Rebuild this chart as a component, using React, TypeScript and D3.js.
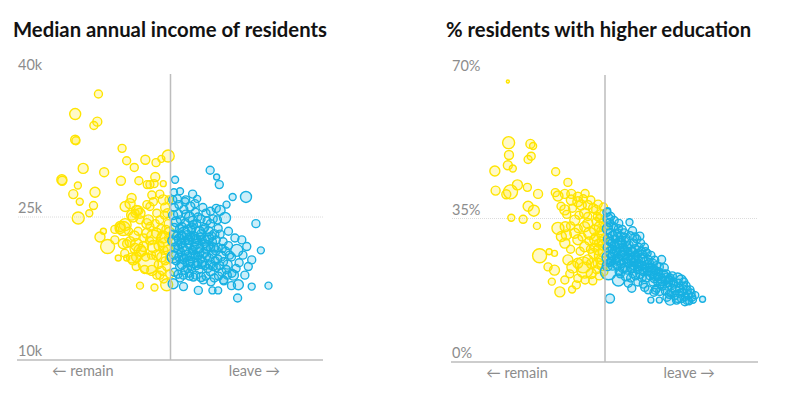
import { useEffect, useRef } from "react";
import * as d3 from "d3";

// each point: [leave vote %, value, circle radius]
type Pt = [number, number, number];

const incomeTicks = [10, 25, 40];
const educationTicks = [0, 35, 70];

const incomeRemain: Pt[] = [
    [31.1, 37.9, 4], [25.0, 35.8, 5.5], [30.8, 35.0, 4.5], [29.9, 34.6, 4], [25.0, 33.1, 4.5], [25.2, 33.0, 4],
    [37.3, 32.2, 4], [38.5, 30.9, 4], [40.5, 30.2, 4], [43.4, 31.0, 4.5], [46.2, 30.7, 4], [47.6, 31.1, 3.5],
    [49.4, 31.4, 6], [27.1, 30.1, 5], [32.6, 29.7, 4.5], [21.5, 28.9, 5], [21.6, 28.8, 4.5], [37.0, 28.8, 4.5],
    [41.7, 28.8, 4], [46.0, 29.2, 4.5], [25.7, 28.3, 3.5], [24.5, 27.4, 4.5], [30.2, 27.6, 5], [26.2, 26.6, 3.5],
    [29.8, 26.2, 4], [28.7, 25.4, 3.5], [25.8, 24.9, 6], [43.9, 28.4, 4], [44.6, 28.4, 4], [45.7, 28.5, 4],
    [48.1, 28.5, 3], [45.1, 27.3, 4], [47.2, 27.4, 4], [39.8, 27.0, 4.5], [39.4, 26.4, 5], [38.1, 26.1, 5],
    [41.6, 25.7, 4.5], [40.7, 25.4, 4], [44.6, 26.1, 4], [46.4, 25.4, 4], [48.6, 26.0, 4.5], [48.1, 26.8, 5],
    [45.5, 26.6, 4], [31.5, 22.9, 5], [33.5, 21.9, 7], [32.4, 23.5, 3], [35.4, 22.6, 4], [36.3, 20.7, 3],
    [37.6, 23.8, 7], [36.8, 23.8, 5], [38.5, 22.2, 4], [41.1, 25.7, 5], [40.2, 25.0, 5], [42.0, 24.7, 4],
    [43.8, 24.3, 5], [44.2, 20.1, 10], [42.0, 21.5, 6], [41.1, 20.8, 5], [39.8, 20.7, 5], [42.9, 21.9, 5],
    [45.5, 21.9, 6], [46.4, 21.0, 5], [45.5, 22.9, 7], [48.1, 22.9, 6], [47.7, 20.8, 5], [49.0, 19.8, 4],
    [46.4, 18.9, 4], [49.0, 17.9, 6], [42.0, 17.8, 3.5], [38.5, 20.7, 3], [40.7, 21.7, 5], [43.8, 26.3, 4],
    [43.8, 23.3, 5], [48.6, 22.1, 7], [49.4, 21.5, 5], [45.1, 19.4, 5], [47.7, 19.4, 4], [35.4, 23.7, 4],
    [36.8, 24.0, 5], [38.1, 24.2, 6], [39.8, 25.2, 5], [42.0, 25.4, 5], [44.2, 24.7, 5], [44.6, 24.0, 4],
    [37.6, 22.2, 5], [39.4, 22.4, 5], [41.1, 22.1, 6], [42.4, 21.4, 5], [40.2, 20.5, 5], [47.2, 18.9, 4],
    [48.1, 22.6, 7], [46.4, 23.3, 5], [47.2, 24.7, 4], [49.4, 24.3, 4],
    [49.6, 26.8, 4], [49.2, 25.4, 4.5], [48.4, 25.2, 4], [49.7, 23.4, 5], [48.8, 23.7, 4], [49.5, 22.8, 4],
    [49.7, 20.6, 4], [48.6, 20.4, 4], [48.3, 21.5, 4], [47.0, 22.0, 5], [46.8, 20.0, 4], [45.0, 21.0, 4],
    [43.5, 20.8, 4], [43.0, 22.8, 4], [41.5, 23.5, 4], [40.5, 23.0, 5], [39.0, 23.5, 4], [38.0, 21.2, 4],
    [41.0, 19.8, 4], [43.2, 19.5, 4], [44.5, 22.5, 4], [46.0, 24.3, 4], [47.5, 23.8, 4], [49.8, 19.0, 4],
    [48.2, 18.5, 4], [45.8, 17.6, 3.5],
];

const incomeLeave: Pt[] = [
    [60.4, 29.9, 4], [62.1, 29.2, 3], [62.8, 28.4, 4], [51.2, 28.9, 3.5], [66.3, 27.1, 3.5], [69.8, 27.1, 5.5],
    [55.8, 27.4, 4], [53.8, 26.6, 4], [56.4, 26.4, 4], [63.0, 25.7, 5], [64.3, 24.9, 5.5], [64.7, 26.3, 3.5],
    [72.4, 24.3, 4], [62.5, 23.8, 4], [65.2, 23.5, 4], [66.9, 22.8, 4], [68.7, 22.6, 4], [67.4, 21.5, 6],
    [70.0, 21.9, 4], [73.7, 21.5, 3.5], [71.3, 20.5, 4], [70.4, 19.8, 4], [69.5, 18.9, 4], [67.8, 17.9, 5],
    [71.3, 17.7, 3.5], [75.7, 17.8, 3.5], [67.6, 16.5, 4], [66.1, 19.1, 4], [63.9, 18.4, 4], [62.5, 17.3, 3.5],
    [61.0, 17.3, 3.5], [57.3, 17.3, 4], [53.4, 17.7, 4], [50.7, 18.0, 5], [58.6, 18.4, 4], [56.0, 18.7, 4],
    [52.5, 18.6, 4], [52.5, 27.7, 3.5], [54.0, 26.8, 4], [58.5, 26.0, 4], [60.5, 25.6, 4], [62.0, 25.9, 4],
    [57.0, 26.9, 3.5], [51.0, 26.0, 4], [52.0, 25.3, 4.5], [53.5, 25.8, 4], [55.0, 25.0, 5], [56.5, 25.5, 4],
    [58.0, 24.8, 4], [51.5, 24.5, 5], [53.0, 24.0, 4], [54.5, 23.7, 4.5], [56.0, 24.2, 4], [57.5, 23.5, 5],
    [59.0, 23.9, 4], [60.5, 24.3, 4], [61.5, 23.2, 4.5], [50.8, 23.2, 4], [52.3, 22.7, 5], [53.8, 22.5, 4],
    [55.3, 22.9, 4], [56.8, 22.2, 4.5], [58.3, 22.6, 4], [59.8, 22.0, 5], [61.0, 22.4, 4], [62.5, 21.8, 4],
    [51.2, 21.8, 4.5], [52.7, 21.3, 4], [54.2, 21.0, 5], [55.7, 21.5, 4], [57.2, 20.9, 4], [58.7, 21.2, 4.5],
    [60.2, 20.7, 4], [61.7, 20.4, 4], [63.2, 20.9, 5], [64.5, 21.4, 4], [51.5, 20.4, 4], [53.0, 20.0, 4.5],
    [54.5, 19.6, 4], [56.0, 20.2, 5], [57.5, 19.5, 4], [59.0, 19.9, 4], [60.5, 19.3, 4.5], [62.0, 19.7, 4],
    [63.5, 19.2, 4], [65.0, 20.0, 4.5], [66.0, 20.8, 4], [52.0, 19.0, 4], [55.0, 18.8, 4], [58.0, 18.7, 4.5],
    [61.5, 18.6, 4], [64.0, 18.3, 4], [66.5, 18.9, 5], [68.0, 20.2, 4], [69.0, 21.0, 4], [50.6, 22.5, 5],
    [50.7, 20.8, 6], [53.5, 23.3, 6], [57.0, 21.8, 6], [60.0, 22.8, 5],
    [50.6, 26.8, 4], [52.2, 26.3, 4], [55.2, 26.1, 4.5], [59.3, 25.4, 4], [61.2, 24.8, 4],
    [50.7, 25.2, 4.5], [52.6, 24.7, 4], [54.0, 25.3, 4], [55.8, 24.6, 4.5], [57.2, 25.0, 4], [59.6, 24.6, 4],
    [62.3, 24.7, 4], [51.0, 23.9, 4], [52.4, 23.8, 4], [53.9, 24.4, 4], [55.5, 23.6, 4], [56.9, 24.3, 4],
    [58.6, 23.7, 4], [60.0, 23.5, 4.5], [63.0, 23.2, 4], [51.6, 23.0, 4], [52.9, 23.1, 4], [54.7, 22.6, 4.5],
    [56.2, 23.0, 4], [57.8, 22.9, 4], [59.2, 22.6, 4], [60.8, 23.0, 4], [62.0, 22.6, 4], [63.8, 22.4, 4],
    [51.9, 22.0, 4], [53.2, 21.8, 4.5], [54.8, 22.1, 4], [56.2, 21.9, 4], [57.7, 21.7, 4], [59.0, 22.2, 4],
    [60.5, 21.8, 4], [61.9, 21.5, 4.5], [63.6, 21.7, 4], [65.2, 22.0, 4], [50.9, 21.0, 4], [52.2, 20.8, 4],
    [53.6, 20.7, 4], [55.0, 20.9, 4.5], [56.5, 21.0, 4], [57.9, 20.6, 4], [59.5, 20.9, 4], [61.0, 21.1, 4],
    [62.4, 20.6, 4], [63.9, 20.3, 4], [65.5, 21.0, 4], [52.4, 19.8, 4], [53.8, 19.4, 4], [55.4, 19.8, 4],
    [56.8, 19.9, 4], [58.3, 20.0, 4], [59.8, 19.6, 4], [61.2, 19.8, 4], [62.9, 19.9, 4], [64.6, 19.5, 4],
    [67.2, 19.6, 4], [51.0, 19.2, 4], [53.4, 18.9, 4], [54.9, 19.1, 4], [56.6, 18.9, 4], [59.3, 18.8, 4],
    [60.6, 18.2, 4], [62.6, 18.8, 4], [64.9, 18.9, 4], [66.0, 17.8, 4], [50.9, 27.6, 3.5], [51.8, 26.9, 4],
    [52.8, 22.2, 4.5], [53.9, 21.5, 4.5], [54.9, 22.6, 4.5], [55.9, 21.2, 4.5], [56.7, 22.7, 4.5], [57.6, 21.3, 4.5],
    [58.4, 20.3, 4.5], [55.2, 20.4, 4.5], [53.4, 20.6, 4.5], [54.3, 23.1, 4.5], [52.1, 21.6, 4.5], [57.1, 20.2, 4.5],
    [59.4, 21.6, 4.5], [56.3, 22.5, 5], [54.6, 20.3, 5], [58.1, 23.2, 4.5], [55.6, 23.9, 4.5], [53.1, 22.9, 4.5],
    [60.4, 20.0, 4.5], [61.3, 21.8, 4.5],
];

const educationRemain: Pt[] = [
    [24.6, 68.4, 1.5], [24.8, 53.5, 6], [30.5, 53.2, 4.5], [31.2, 52.7, 3.5], [24.9, 50.5, 4.5], [30.7, 50.2, 4],
    [29.9, 49.4, 4], [24.6, 48.0, 4.5], [25.9, 47.2, 3.5], [21.2, 46.6, 5], [37.1, 46.4, 4], [40.3, 43.8, 4],
    [27.1, 43.2, 5], [29.7, 42.6, 4], [25.3, 41.5, 7], [24.2, 40.9, 4.5], [21.4, 41.8, 4.5], [32.5, 41.0, 4.5],
    [37.0, 41.3, 4], [37.7, 40.5, 5], [39.5, 41.0, 4.5], [41.2, 41.0, 4.5], [42.9, 40.3, 4.5], [44.8, 41.1, 4],
    [29.9, 38.0, 5], [31.4, 36.9, 5.5], [25.5, 35.2, 3.5], [28.6, 34.8, 4], [32.2, 33.2, 3.5], [39.5, 37.1, 5],
    [41.2, 39.5, 5], [42.9, 39.1, 5], [43.8, 38.3, 5], [45.5, 38.3, 4.5], [46.9, 37.5, 4.5], [47.7, 37.1, 4.5],
    [37.7, 32.6, 6], [39.6, 33.0, 5], [42.1, 34.6, 5], [44.7, 36.3, 5], [45.5, 33.8, 5], [47.7, 34.2, 4],
    [48.6, 35.0, 4], [39.5, 29.0, 5], [42.9, 29.8, 5], [44.7, 28.1, 5], [47.3, 29.8, 5], [48.2, 27.3, 5],
    [32.9, 25.9, 7], [35.4, 26.9, 3], [36.8, 26.5, 3], [35.1, 23.2, 4], [36.8, 22.4, 5], [36.1, 19.6, 3.5],
    [38.2, 17.1, 5], [41.4, 17.7, 3.5], [40.3, 24.9, 5], [41.6, 23.2, 6], [42.9, 20.4, 4], [44.7, 22.4, 8],
    [46.4, 21.6, 5], [42.9, 24.1, 5], [45.5, 24.9, 5], [48.2, 24.1, 5], [47.3, 32.2, 5], [46.0, 31.4, 6],
    [44.7, 33.0, 5], [42.1, 31.4, 5], [39.9, 31.0, 5], [38.6, 30.6, 5], [49.0, 36.0, 5], [48.5, 33.0, 5],
    [49.2, 31.0, 5], [47.5, 30.5, 4], [49.5, 28.5, 5], [48.8, 26.0, 6], [47.0, 26.5, 5], [49.3, 23.5, 5],
    [47.8, 22.5, 4], [46.5, 24.0, 5], [44.3, 23.7, 8], [48.0, 35.5, 4], [49.5, 34.0, 4], [48.9, 32.0, 4],
    [49.7, 30.0, 4], [48.3, 29.0, 4],
    [49.6, 37.8, 4], [48.2, 38.5, 4], [46.3, 39.5, 4], [44.3, 39.8, 4], [49.8, 33.0, 4], [49.0, 29.5, 4],
    [49.6, 26.8, 5], [49.0, 24.8, 4], [49.7, 22.0, 4], [48.5, 21.0, 4], [47.3, 28.0, 4], [46.2, 27.5, 4],
    [45.8, 29.5, 4], [44.0, 30.5, 4], [43.5, 27.0, 4], [41.0, 27.5, 4], [40.0, 36.0, 4], [41.5, 37.5, 4],
    [38.5, 38.0, 4], [40.8, 21.5, 4], [39.5, 20.0, 4], [42.5, 18.8, 4], [44.8, 20.0, 4], [46.8, 19.8, 4],
    [45.5, 35.5, 4], [43.2, 35.8, 4], [43.0, 32.5, 4], [41.0, 33.2, 4],
];

const educationLeave: Pt[] = [
    [50.7, 36.9, 3], [50.5, 36.5, 4], [50.8, 35.0, 5], [51.2, 34.0, 4], [50.6, 32.5, 5], [51.5, 31.5, 4.5],
    [50.9, 30.0, 5], [51.8, 29.0, 4], [50.7, 28.0, 4.5], [51.3, 26.8, 5], [50.8, 25.5, 6], [51.6, 24.5, 4],
    [50.6, 23.5, 5], [50.9, 22.0, 8], [52.3, 33.0, 4], [52.8, 31.0, 5], [52.5, 28.5, 4.5], [53.0, 27.0, 4],
    [52.2, 26.0, 5], [53.5, 32.5, 4], [54.2, 30.5, 4.5], [55.0, 31.5, 4], [53.8, 29.0, 5], [54.8, 28.0, 4],
    [55.5, 29.5, 4.5], [56.0, 27.0, 4], [53.5, 25.5, 4], [54.5, 26.0, 5], [55.5, 25.0, 4], [56.3, 26.0, 4.5],
    [53.2, 23.5, 4], [54.3, 24.0, 4], [55.2, 23.0, 4.5], [56.2, 24.0, 4], [54.0, 21.5, 4], [55.5, 21.0, 5],
    [56.1, 19.2, 4], [53.5, 20.0, 6], [57.0, 18.0, 4], [56.4, 34.1, 3.5], [57.2, 32.0, 4], [57.5, 29.0, 4],
    [58.3, 30.0, 4], [59.1, 30.7, 4], [57.8, 27.5, 4.5], [58.5, 26.5, 4], [59.5, 27.0, 4], [57.4, 25.5, 5],
    [58.7, 25.0, 4], [59.8, 25.5, 4.5], [57.6, 23.5, 4], [58.5, 22.5, 4], [59.6, 23.5, 4], [58.0, 21.0, 4],
    [59.2, 21.5, 4.5], [60.0, 22.0, 4], [58.6, 19.5, 4], [60.0, 19.0, 4], [60.3, 28.0, 4], [61.0, 26.5, 4],
    [61.3, 25.0, 4], [62.0, 26.0, 4], [62.5, 24.0, 4.5], [61.5, 23.0, 4], [62.8, 22.5, 4], [63.5, 23.5, 4],
    [61.8, 21.0, 4], [63.0, 21.0, 4.5], [64.0, 22.0, 4], [64.8, 25.0, 4], [62.5, 19.5, 4], [63.8, 19.5, 4],
    [64.5, 20.5, 5], [61.3, 17.6, 4], [62.0, 15.1, 3], [63.2, 17.5, 4], [64.2, 15.1, 3], [65.0, 18.5, 4],
    [65.5, 23.0, 4], [66.0, 21.5, 4], [66.5, 19.5, 4.5], [67.0, 20.5, 4], [67.5, 18.0, 4], [66.8, 16.5, 4],
    [67.0, 15.1, 5], [68.0, 19.0, 4], [68.5, 17.5, 4.5], [68.7, 15.1, 4], [69.0, 20.5, 5], [69.9, 20.0, 5],
    [69.5, 18.0, 4], [69.0, 16.0, 6], [70.2, 17.0, 4], [70.9, 14.7, 4], [70.5, 18.5, 4], [71.0, 16.0, 4],
    [71.5, 17.5, 4], [72.2, 17.6, 4], [72.7, 15.8, 4], [72.0, 14.8, 3.5], [75.5, 15.3, 3], [51.3, 15.5, 4.5],
    [51.0, 33.2, 4], [51.5, 35.5, 4], [51.9, 27.5, 4], [51.2, 29.4, 4], [51.7, 25.8, 4], [51.1, 24.2, 4],
    [52.0, 23.5, 4.5], [52.4, 34.5, 4], [52.7, 30.0, 4], [52.9, 25.0, 4], [53.3, 31.5, 4], [53.6, 33.8, 4],
    [53.9, 27.8, 4], [54.1, 29.6, 4], [54.5, 32.3, 4], [54.7, 26.8, 4], [54.6, 22.8, 4], [53.7, 22.0, 4],
    [55.2, 27.2, 4], [55.0, 24.3, 4], [55.4, 30.3, 4], [55.8, 22.4, 4], [53.0, 24.6, 4], [56.3, 28.5, 4],
    [56.6, 30.8, 4], [56.8, 25.0, 4], [56.9, 22.8, 4], [57.2, 27.0, 4], [57.5, 24.3, 4], [57.8, 30.5, 4],
    [58.0, 26.0, 4], [58.2, 23.8, 4], [58.8, 28.0, 4], [58.9, 24.0, 4], [57.3, 21.5, 4], [56.7, 20.5, 4],
    [59.3, 29.0, 4], [59.8, 26.3, 4], [60.2, 24.5, 4], [60.5, 23.0, 4], [60.6, 26.9, 4], [60.8, 20.5, 4],
    [61.1, 22.2, 4], [61.6, 24.2, 4], [59.7, 20.5, 4], [60.4, 18.2, 4], [62.2, 23.0, 4], [62.5, 21.5, 4],
    [63.0, 24.8, 4], [63.2, 22.3, 4], [63.7, 20.8, 4], [64.2, 23.2, 4], [64.5, 19.0, 4], [63.5, 18.0, 4],
    [62.8, 17.0, 4], [64.3, 17.2, 4], [65.3, 21.5, 4], [65.7, 19.8, 4], [65.8, 17.3, 4], [66.3, 18.5, 4],
    [66.8, 20.0, 4], [67.3, 16.8, 4], [67.8, 19.5, 4], [68.2, 16.2, 4], [67.6, 21.0, 4], [66.2, 15.8, 4],
    [69.2, 19.2, 4], [69.6, 16.8, 4], [70.0, 15.5, 4], [70.6, 19.5, 4], [71.2, 18.6, 4], [71.8, 16.4, 4],
    [72.5, 16.8, 4], [73.0, 15.2, 3.5], [73.6, 16.3, 3.5], [71.5, 15.0, 4],
    [52.0, 30.8, 4.5], [53.2, 28.7, 4.5], [54.0, 27.1, 4.5], [55.0, 26.2, 4.5], [56.0, 25.3, 4.5], [56.9, 26.8, 4.5],
    [57.9, 24.8, 4.5], [58.8, 23.3, 4.5], [59.9, 22.7, 4.5], [60.9, 23.7, 4.5], [61.8, 22.0, 4.5], [62.9, 20.5, 4.5],
    [63.9, 21.4, 4.5], [65.0, 19.7, 4.5], [66.2, 20.6, 4.5], [54.4, 29.0, 4.5], [55.8, 28.0, 4.5], [57.1, 23.0, 4.5],
    [52.4, 26.9, 4.5], [53.8, 24.8, 4.5],
];

const remainColor = "#ffe500";
const leaveColor = "#17b0e2";

export default function App() {
    const chartRef = useRef<SVGSVGElement>(null);

    useEffect(() => {
        if (!chartRef.current) return;
        const svg = d3.select(chartRef.current);
        svg.selectAll("*").remove();

        const panels = [
            {
                title: "Median annual income of residents", titleX: 13,
                left: 18, right: 323, top: 74, bottom: 360,
                domain: [10, 40], ticks: incomeTicks, fmt: (d: number) => `${d}k`,
                remain: incomeRemain, leave: incomeLeave,
            },
            {
                title: "% residents with higher education", titleX: 446,
                left: 452, right: 758, top: 75, bottom: 362,
                domain: [0, 70], ticks: educationTicks, fmt: (d: number) => `${d}%`,
                remain: educationRemain, leave: educationLeave,
            },
        ];

        panels.forEach((p) => {
            const x = d3.scaleLinear().domain([10, 90]).range([p.left, p.right]);
            const y = d3.scaleLinear().domain(p.domain).range([p.bottom, p.top]);
            const g = svg.append("g");

            g.append("text")
                .attr("x", p.titleX)
                .attr("y", 36.5)
                .attr("font-family", "Lato, sans-serif")
                .attr("font-weight", 700)
                .attr("font-size", 20.3)
                .attr("fill", "#121212")
                .text(p.title);

            // dotted middle gridline
            g.selectAll(".grid")
                .data(p.ticks.slice(1, -1))
                .enter()
                .append("line")
                .attr("x1", p.left)
                .attr("x2", p.right)
                .attr("y1", (d) => y(d))
                .attr("y2", (d) => y(d))
                .attr("stroke", "#dcdcdc")
                .attr("stroke-dasharray", "1,1");

            g.selectAll(".tick")
                .data(p.ticks)
                .enter()
                .append("text")
                .attr("x", p.left)
                .attr("y", (d) => y(d) - 4)
                .attr("font-family", "Lato, sans-serif")
                .attr("font-size", 14.5)
                .attr("fill", "#8c8c8c")
                .text((d) => p.fmt(d));

            // remain first, leave on top
            [
                { pts: p.remain, color: remainColor },
                { pts: p.leave, color: leaveColor },
            ].forEach((s) => {
                g.append("g")
                    .selectAll("circle")
                    .data(s.pts)
                    .enter()
                    .append("circle")
                    .attr("cx", (d) => x(d[0]))
                    .attr("cy", (d) => y(d[1]))
                    .attr("r", (d) => d[2])
                    .attr("fill", s.color)
                    .attr("fill-opacity", 0.22)
                    .attr("stroke", s.color)
                    .attr("stroke-width", 1.4);
            });

            g.append("line")
                .attr("x1", x(50))
                .attr("x2", x(50))
                .attr("y1", p.top)
                .attr("y2", p.bottom)
                .attr("stroke", "#bdbdbd")
                .attr("stroke-width", 1.5);

            g.append("line")
                .attr("x1", p.left - 1)
                .attr("x2", p.right)
                .attr("y1", p.bottom)
                .attr("y2", p.bottom)
                .attr("stroke", "#bdbdbd")
                .attr("stroke-width", 1.5);

            const labels = [
                { v: 27, t: "← remain" },
                { v: 72, t: "leave →" },
            ];
            g.selectAll(".side")
                .data(labels)
                .enter()
                .append("text")
                .attr("x", (d) => x(d.v))
                .attr("y", p.bottom + 16)
                .attr("text-anchor", "middle")
                .attr("font-family", "Lato, sans-serif")
                .attr("font-size", 14.5)
                .attr("fill", "#8c8c8c")
                .text((d) => d.t);
        });
    }, []);

    return (
        <svg
            ref={chartRef}
            width={792}
            height={403}
            style={{ position: "absolute", left: 0, top: 0, background: "#fff" }}
        />
    );
}
